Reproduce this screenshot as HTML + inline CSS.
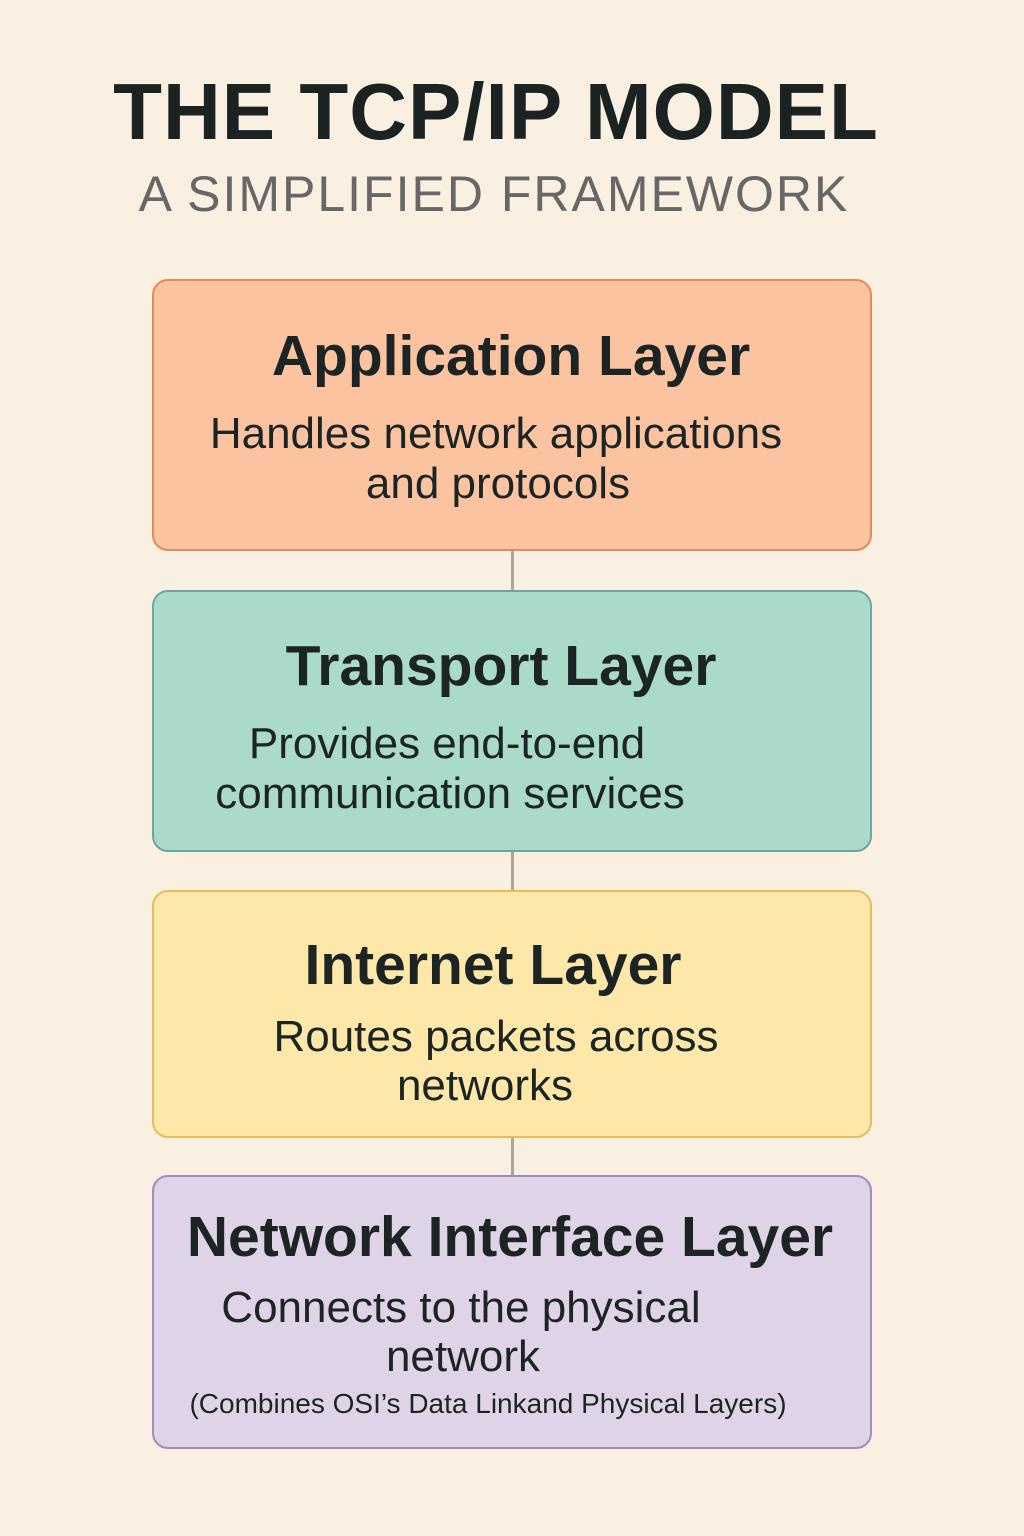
<!DOCTYPE html>
<html><head><meta charset="utf-8">
<style>
html,body{margin:0;padding:0;}
body{width:1024px;height:1536px;background:#f9f0e1;position:relative;overflow:hidden;font-family:"Liberation Sans","DejaVu Sans",sans-serif;color:#1c2424;}
.t{position:absolute;width:900px;text-align:center;white-space:nowrap;line-height:1;}
.box{position:absolute;left:152px;width:716px;border:2.5px solid;border-radius:16px;}
.line{position:absolute;left:511px;width:3px;background:#a9a49c;}
.h{font-weight:bold;font-size:57px;}
.d{font-size:44px;}
</style></head><body>
<div class="t" style="left:46px;top:72px;font-size:80px;font-weight:bold;letter-spacing:1px;color:#1a2222;">THE TCP/IP MODEL</div>
<div class="t" style="left:44px;top:169px;font-size:50px;letter-spacing:2px;color:#676767;">A SIMPLIFIED FRAMEWORK</div>

<div class="line" style="top:550px;height:42px;"></div>
<div class="line" style="top:850px;height:42px;"></div>
<div class="line" style="top:1136px;height:42px;"></div>

<div class="box" style="top:279px;height:268px;background:#fcc3a1;border-color:#e08a5f;"></div>
<div class="box" style="top:590px;height:258px;background:#a9dbc8;border-color:#6ca5a8;"></div>
<div class="box" style="top:890px;height:244px;background:#fde7a9;border-color:#e9bb5c;"></div>
<div class="box" style="top:1175px;height:270px;background:#dfd3e8;border-color:#a08cba;"></div>

<div class="t h" style="left:61px;top:328px;">Application Layer</div>
<div class="t d" style="left:46px;top:412px;">Handles network applications</div>
<div class="t d" style="left:48px;top:462px;">and protocols</div>

<div class="t h" style="left:51px;top:638px;">Transport Layer</div>
<div class="t d" style="left:-3px;top:722px;">Provides end-to-end</div>
<div class="t d" style="left:0px;top:772px;">communication services</div>

<div class="t h" style="left:43px;top:937px;">Internet Layer</div>
<div class="t d" style="left:46px;top:1015px;">Routes packets across</div>
<div class="t d" style="left:35px;top:1064px;">networks</div>

<div class="t h" style="left:60px;top:1209px;">Network Interface Layer</div>
<div class="t d" style="left:11px;top:1286px;">Connects to the physical</div>
<div class="t d" style="left:13px;top:1335px;">network</div>
<div class="t" style="left:38px;top:1390px;font-size:28px;">(Combines OSI’s Data Linkand Physical Layers)</div>
</body></html>
